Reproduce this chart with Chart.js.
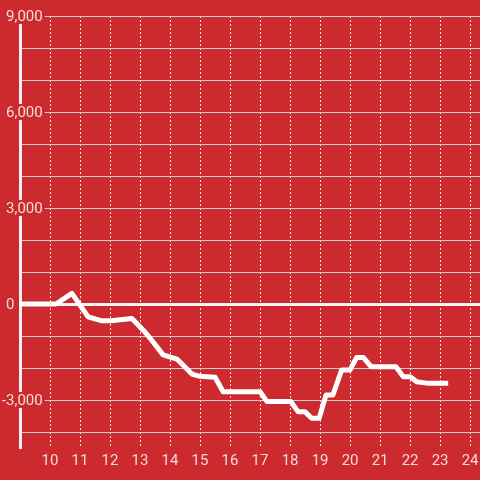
<!DOCTYPE html>
<html>
<head>
<meta charset="utf-8">
<script src="https://cdn.jsdelivr.net/npm/chart.js@4/dist/chart.umd.min.js"></script>
<style>
  html, body { margin: 0; padding: 0; background: #cc2a2f; }
  #wrap { width: 480px; height: 480px; }
</style>
</head>
<body>
<div id="wrap"><canvas id="chart" width="480" height="480"></canvas></div>
<script>
// hour of day and running value
const hours = [9.0, 10.2, 10.73, 11.27, 11.7, 12.03, 12.73, 13.1, 13.33, 13.77, 14.23, 14.73, 15.0, 15.5,
  15.77, 17.0, 17.23, 18.03, 18.27, 18.5, 18.72, 18.97, 19.2, 19.43, 19.72, 20.0, 20.22, 20.44, 20.7,
  21.53, 21.77, 22.0, 22.22, 22.61, 23.27];
const values = [0, 0, 330, -400, -520, -520, -450, -810, -1060, -1590, -1720, -2190, -2260, -2290,
  -2740, -2740, -3050, -3050, -3370, -3370, -3570, -3570, -2840, -2840, -2060, -2060, -1670, -1670, -1960,
  -1960, -2270, -2270, -2430, -2480, -2480];

const xTicks = [10, 11, 12, 13, 14, 15, 16, 17, 18, 19, 20, 21, 22, 23, 24];
const yGridTicks = [-4000, -3000, -2000, -1000, 0, 1000, 2000, 3000, 4000, 5000, 6000, 7000, 8000, 9000];
const yLabelTicks = [9000, 6000, 3000, 0, -3000];

const bg = '#cc2a2f';
const labelColor = 'rgba(255,255,255,0.82)';
const fontFamily = 'Roboto, "Liberation Sans", sans-serif';

// y labels sit over the axis line with a box of the background colour behind them
const yLabelPlugin = {
  id: 'yLabels',
  afterDraw(chart) {
    const ctx = chart.ctx;
    const y = chart.scales.y;
    ctx.save();
    ctx.font = '15px ' + fontFamily;
    ctx.textAlign = 'left';
    ctx.textBaseline = 'middle';
    const minusW = ctx.measureText('-').width;
    yLabelTicks.forEach((v) => {
      const py = y.getPixelForValue(v);
      const text = v.toLocaleString('en-US');
      const w = ctx.measureText(text).width;
      const left = chart.chartArea.left - 14 - (v < 0 ? minusW : 0);
      ctx.fillStyle = bg;
      ctx.fillRect(left - 1, py - 8, w + 3, 16);
      ctx.fillStyle = labelColor;
      ctx.fillText(text, left, py + 1);
    });
    ctx.restore();
  },
};

new Chart(document.getElementById('chart'), {
  type: 'line',
  data: {
    datasets: [{
      data: hours.map((h, i) => ({ x: h, y: values[i] })),
      borderColor: '#ffffff',
      borderWidth: 5,
      pointRadius: 0,
      tension: 0,
      borderJoinStyle: 'round',
      borderCapStyle: 'butt',
    }],
  },
  options: {
    responsive: false,
    animation: false,
    layout: { padding: { left: 20, top: 16, right: 0, bottom: 6 } },
    plugins: { legend: { display: false }, tooltip: { enabled: false } },
    scales: {
      x: {
        type: 'linear',
        min: 9,
        max: 24.33,
        afterBuildTicks: (scale) => { scale.ticks = xTicks.map((v) => ({ value: v })); },
        // let the last label run to the canvas edge instead of shrinking the plot
        afterFit: (scale) => { scale.paddingLeft = 0; scale.paddingRight = 0; },
        grid: { color: 'rgba(255,255,255,0.85)', lineWidth: 1, drawTicks: false },
        border: { display: false, dash: [2, 2] },
        ticks: {
          color: labelColor,
          padding: 4,
          maxRotation: 0,
          autoSkip: false,
          font: { family: fontFamily, size: 15 },
        },
      },
      y: {
        min: -4500,
        max: 9000,
        afterBuildTicks: (scale) => { scale.ticks = yGridTicks.map((v) => ({ value: v })); },
        grid: {
          drawTicks: false,
          color: (c) => (c.tick && c.tick.value === 0 ? '#f2f2f2' : '#d2cccc'),
          lineWidth: (c) => (c.tick && c.tick.value === 0 ? 3 : 1),
        },
        border: { display: true, color: '#f2f2f2', width: 3 },
        ticks: { display: false },
      },
    },
  },
  plugins: [yLabelPlugin],
});
</script>
</body>
</html>
